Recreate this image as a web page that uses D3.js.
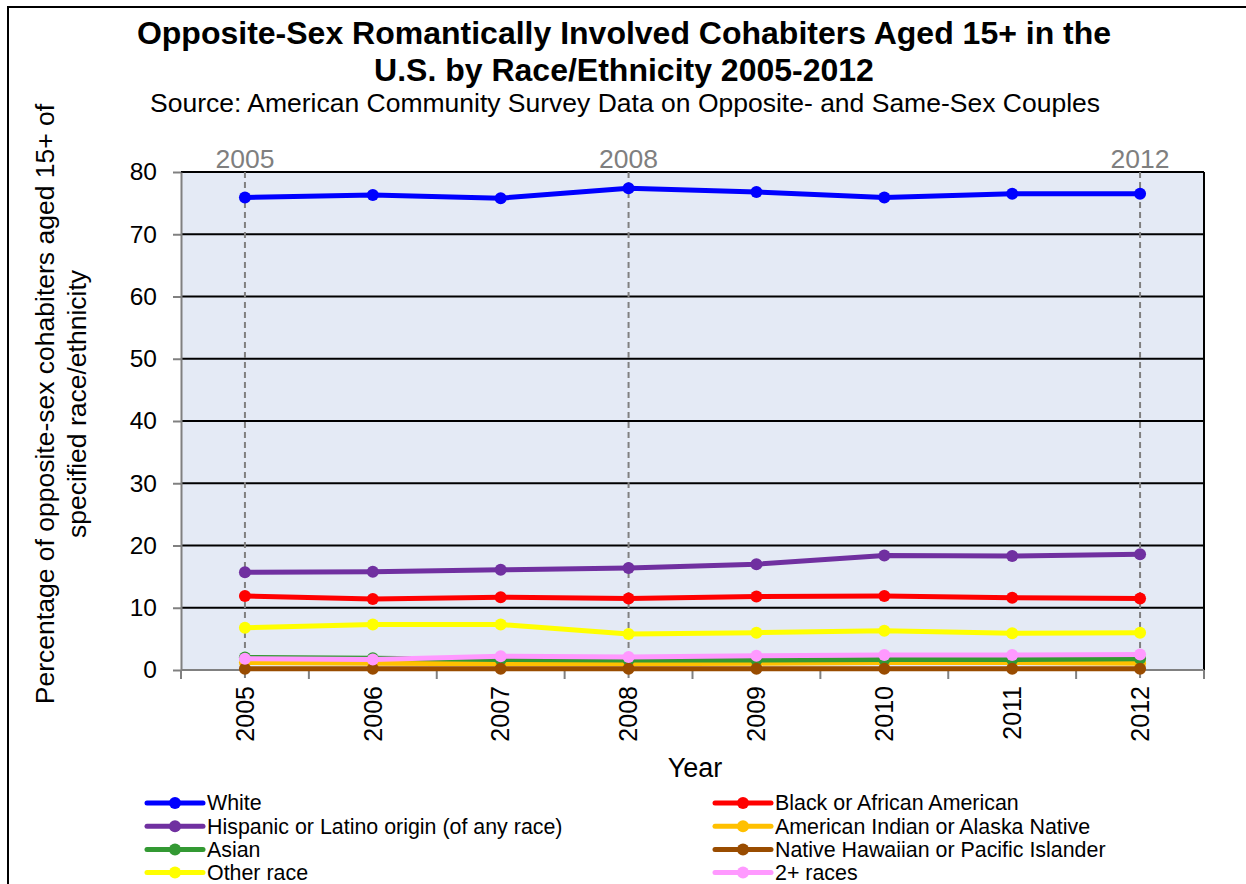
<!DOCTYPE html>
<html>
<head>
<meta charset="utf-8">
<script src="https://cdn.jsdelivr.net/npm/d3@7"></script>
<style>
  body { margin: 0; background: #fff; }
  svg { display: block; font-family: "Liberation Sans", Arial, sans-serif; }
</style>
</head>
<body>
<svg id="chart" width="1246" height="884"></svg>
<script>
const years = ["2005", "2006", "2007", "2008", "2009", "2010", "2011", "2012"];
const markedYears = ["2005", "2008", "2012"];
const yTicks = [0, 10, 20, 30, 40, 50, 60, 70, 80];

const seriesNames = [
  "White",
  "Black or African American",
  "Hispanic or Latino origin (of any race)",
  "American Indian or Alaska Native",
  "Asian",
  "Native Hawaiian or Pacific Islander",
  "Other race",
  "2+ races"
];
const seriesColors = ["#0000FF", "#FF0000", "#7030A0", "#FFC000", "#339933", "#994C00", "#FFFF00", "#FF99FF"];

const white    = [75.9, 76.3, 75.8, 77.4, 76.8, 75.9, 76.5, 76.5];
const black    = [11.9, 11.4, 11.7, 11.5, 11.8, 11.9, 11.6, 11.5];
const hispanic = [15.7, 15.8, 16.1, 16.4, 17.0, 18.4, 18.3, 18.6];
const amInd    = [1.2, 1.1, 1.0, 1.0, 1.1, 1.2, 1.2, 1.1];
const asian    = [2.0, 1.9, 1.7, 1.6, 1.6, 1.7, 1.7, 1.8];
const nhpi     = [0.2, 0.2, 0.2, 0.2, 0.2, 0.2, 0.2, 0.2];
const other    = [6.8, 7.3, 7.3, 5.8, 6.0, 6.3, 5.9, 6.0];
const twoPlus  = [1.8, 1.7, 2.2, 2.1, 2.3, 2.4, 2.4, 2.5];

const seriesValues = [white, black, hispanic, amInd, asian, nhpi, other, twoPlus];

const svg = d3.select("#chart");
const W = 1246, H = 884;

// outer border
svg.append("path").attr("d", `M8,${H} L8,7 L${W},7`).attr("fill", "none").attr("stroke", "#000").attr("stroke-width", 2);

const plot = { left: 181, right: 1204, top: 172, bottom: 670 };

const xBand = d3.scaleBand().domain(years).range([plot.left, plot.right]).paddingInner(0).paddingOuter(0);
const x = d => xBand(d) + xBand.bandwidth() / 2;
const y = d3.scaleLinear().domain([0, 80]).range([plot.bottom, plot.top]);

// plot background
svg.append("rect").attr("x", plot.left).attr("y", plot.top)
  .attr("width", plot.right - plot.left).attr("height", plot.bottom - plot.top)
  .attr("fill", "#E4EAF5");

// gridlines
svg.append("g").selectAll("line").data(yTicks.filter(v => v > 0)).join("line")
  .attr("x1", plot.left).attr("x2", plot.right)
  .attr("y1", d => y(d)).attr("y2", d => y(d))
  .attr("stroke", "#000").attr("stroke-width", 2);

// right border
svg.append("line").attr("x1", plot.right).attr("x2", plot.right)
  .attr("y1", plot.top).attr("y2", plot.bottom).attr("stroke", "#000").attr("stroke-width", 2);

// Y axis
const yAxis = svg.append("g").attr("transform", `translate(${plot.left},0)`)
  .call(d3.axisLeft(y).tickValues(yTicks).tickSize(8).tickPadding(16).tickSizeOuter(0));
yAxis.select(".domain").attr("stroke", "#808080").attr("stroke-width", 2);
yAxis.selectAll(".tick line").attr("stroke", "#808080").attr("stroke-width", 2);
yAxis.selectAll(".tick text").attr("font-size", 24.5).attr("fill", "#000").attr("font-family", "Liberation Sans, Arial");

// X axis: boundary ticks
const xAxisG = svg.append("g").attr("transform", `translate(0,${plot.bottom})`);
xAxisG.append("line").attr("x1", plot.left).attr("x2", plot.right).attr("y1", 0).attr("y2", 0)
  .attr("stroke", "#808080").attr("stroke-width", 2);
const boundaries = years.map(d => xBand(d)).concat([plot.right]);
xAxisG.selectAll("line.bt").data(boundaries).join("line").attr("class", "bt")
  .attr("x1", d => d).attr("x2", d => d).attr("y1", 0).attr("y2", 9)
  .attr("stroke", "#808080").attr("stroke-width", 2);
const xAxis = svg.append("g").attr("transform", `translate(0,${plot.bottom})`)
  .call(d3.axisBottom(xBand).tickSize(0).tickFormat(d => d));
xAxis.select(".domain").remove();
xAxis.selectAll(".tick text")
  .attr("font-size", 25).attr("fill", "#000").attr("font-family", "Liberation Sans, Arial")
  .attr("transform", "rotate(-90)")
  .attr("text-anchor", "end").attr("x", -16).attr("y", 0).attr("dy", "0.35em");

// dashed markers for selected years
const mk = svg.append("g");
mk.selectAll("line").data(markedYears).join("line")
  .attr("x1", d => x(d)).attr("x2", d => x(d))
  .attr("y1", plot.top).attr("y2", plot.bottom + 12)
  .attr("stroke", "#808080").attr("stroke-width", 2).attr("stroke-dasharray", "6,4");
mk.selectAll("text").data(markedYears).join("text")
  .attr("x", d => x(d)).attr("y", plot.top - 4)
  .attr("text-anchor", "middle").attr("font-size", 26.5).attr("fill", "#7F7F7F")
  .text(d => d);

// series lines
const line = d3.line().x((v, i) => x(years[i])).y(v => y(v));
seriesValues.forEach((vals, si) => {
  const g = svg.append("g");
  g.append("path").datum(vals).attr("d", line)
    .attr("fill", "none").attr("stroke", seriesColors[si]).attr("stroke-width", 5)
    .attr("stroke-linejoin", "round");
  g.selectAll("circle").data(vals).join("circle")
    .attr("cx", (v, i) => x(years[i])).attr("cy", v => y(v)).attr("r", 6)
    .attr("fill", seriesColors[si]);
});

// Titles
svg.append("text").attr("x", 624).attr("y", 44).attr("text-anchor", "middle")
  .attr("font-size", 32).attr("font-weight", "bold")
  .text("Opposite-Sex Romantically Involved Cohabiters Aged 15+ in the");
svg.append("text").attr("x", 624).attr("y", 81).attr("text-anchor", "middle")
  .attr("font-size", 32).attr("font-weight", "bold")
  .text("U.S. by Race/Ethnicity 2005-2012");
svg.append("text").attr("x", 625).attr("y", 112).attr("text-anchor", "middle")
  .attr("font-size", 26.5)
  .text("Source: American Community Survey Data on Opposite- and Same-Sex Couples");

// Y axis title
const yt = svg.append("text").attr("transform", "translate(0,404) rotate(-90)").attr("text-anchor", "middle")
  .attr("font-size", 26.5);
yt.append("tspan").attr("x", 0).attr("y", 54).text("Percentage of opposite-sex cohabiters aged 15+ of");
yt.append("tspan").attr("x", 0).attr("y", 86).text("specified race/ethnicity");

// X axis title
svg.append("text").attr("x", 695).attr("y", 777).attr("text-anchor", "middle")
  .attr("font-size", 27).text("Year");

// Legend
const legendCols = [147, 715];
const legendLineW = 56;
const leg = svg.append("g");
seriesNames.forEach((name, i) => {
  const lx = legendCols[i % 2];
  const row = Math.floor(i / 2);
  const ly = 803 + row * 23.2;
  const g = leg.append("g");
  g.append("line").attr("x1", lx).attr("x2", lx + legendLineW).attr("y1", ly).attr("y2", ly)
    .attr("stroke", seriesColors[i]).attr("stroke-width", 5).attr("stroke-linecap", "round");
  g.append("circle").attr("cx", lx + legendLineW / 2).attr("cy", ly).attr("r", 6).attr("fill", seriesColors[i]);
  g.append("text").attr("x", lx + legendLineW + 4).attr("y", ly)
    .attr("dy", "0.35em")
    .attr("font-size", 21.4).text(name);
});
</script>
</body>
</html>
